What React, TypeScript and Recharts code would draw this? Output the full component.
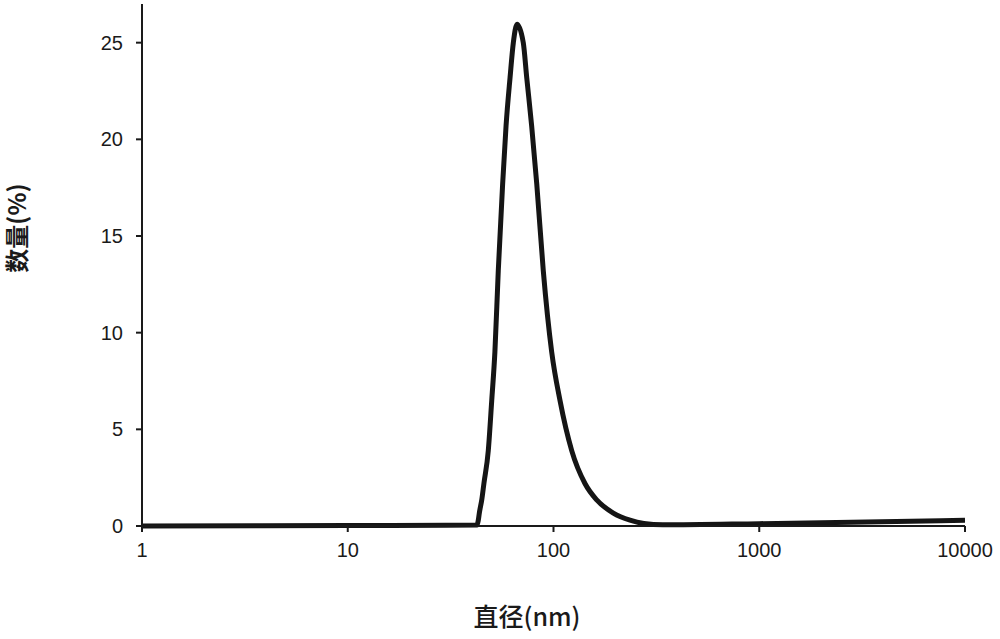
import React from 'react';
import { LineChart, Line, XAxis, YAxis } from 'recharts';

const diameters = [1, 10, 30, 42.5, 43.1, 43.6, 44.8, 45.9, 48.2, 50.1, 51.9, 53.9, 56.6, 58.8, 61.5, 63.8, 66.5, 71.3, 74.1, 78.3, 82.9, 89.2, 98.0, 107.5, 122.6, 142.2, 162.2, 195.3, 235.4, 275, 340, 1000, 10000];
const counts = [0.0, 0.02, 0.04, 0.05, 0.3, 0.67, 1.35, 2.2, 3.9, 6.5, 9.0, 13.2, 17.7, 20.7, 23.2, 25.0, 25.95, 25.0, 23.2, 20.7, 17.7, 13.2, 9.0, 6.5, 3.9, 2.2, 1.35, 0.67, 0.3, 0.13, 0.06, 0.12, 0.3];
const xTicks = [1, 10, 100, 1000, 10000];
const yTicks = [0, 5, 10, 15, 20, 25];

const data = diameters.map((d, i) => ({ d, v: counts[i] }));

const tickStyle = { fontFamily: '"Liberation Sans", Arial, sans-serif', fontSize: 20, fill: '#1a1a1a' };

export default function App() {
  return (
    <div style={{ position: 'absolute', left: 0, top: 0, width: 1000, height: 639, background: '#fff' }}>
      <LineChart width={1000} height={639} data={data} margin={{ top: 4, right: 35, bottom: 0, left: 0 }}>
        <XAxis
          dataKey="d"
          type="number"
          scale="log"
          domain={[1, 10000]}
          ticks={xTicks}
          allowDataOverflow
          height={113}
          tickSize={6}
          tickMargin={11}
          stroke="#1a1a1a"
          strokeWidth={2}
          tick={tickStyle}
          tickFormatter={(v: number) => String(v)}
        />
        <YAxis
          type="number"
          domain={[0, 27]}
          ticks={yTicks}
          width={142}
          tickSize={6}
          tickMargin={13}
          stroke="#1a1a1a"
          strokeWidth={2}
          tick={tickStyle}
        />
        <Line
          type="monotone"
          dataKey="v"
          stroke="#151515"
          strokeWidth={5}
          dot={false}
          isAnimationActive={false}
        />
      </LineChart>
      <div
        style={{
          position: 'absolute',
          left: 527 - 80,
          top: 600,
          width: 160,
          textAlign: 'center',
          fontFamily: '"Noto Sans CJK SC", sans-serif',
          fontSize: 25,
          fontWeight: 500,
          lineHeight: '30px',
          color: '#1a1a1a',
        }}
      >
        直径(nm)
      </div>
      <div
        style={{
          position: 'absolute',
          left: 16 - 80,
          top: 228 - 15,
          width: 160,
          height: 30,
          textAlign: 'center',
          fontFamily: '"Noto Sans CJK SC", sans-serif',
          fontSize: 24,
          fontWeight: 700,
          lineHeight: '30px',
          color: '#1a1a1a',
          transform: 'rotate(-90deg)',
          transformOrigin: '50% 50%',
        }}
      >
        数量(%)
      </div>
    </div>
  );
}
